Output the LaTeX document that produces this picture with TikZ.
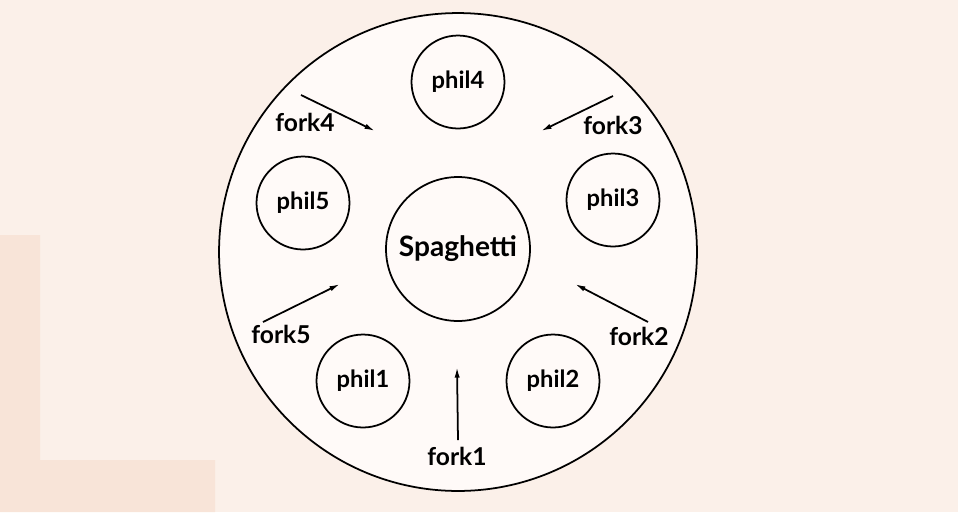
\documentclass[tikz,border=0pt]{standalone}
\usepackage{fontspec}
\setmainfont{Lato}
\usetikzlibrary{arrows.meta}
\definecolor{tablecol}{HTML}{FBF0E9}
\definecolor{stain}{HTML}{F8E4D8}
\definecolor{platecol}{HTML}{FFFAF8}
\begin{document}
\begin{tikzpicture}[x=0.02cm,y=-0.02cm]
			\tikzstyle{every node}+=[inner sep=0pt]
			\tikzstyle{phil}=[draw=black,circle,line width=1pt,fill=platecol,minimum size=1.86cm,font=\fontsize{13.5}{15}\selectfont\bfseries]
			\tikzstyle{forklabel}=[font=\fontsize{14}{16}\selectfont\bfseries]
			\tikzstyle{fork}=[line width=1pt,-{Latex[length=6pt,width=3pt]}]
			\fill [tablecol] (0,0) rectangle (958,512);
			\fill [stain] (0,235) -- (40,235) -- (40,460) -- (215,460) -- (215,512) -- (0,512) -- cycle;
			\useasboundingbox (0,0) rectangle (958,512);
			% the table
			\node [circle,draw=black,line width=1pt,fill=platecol,minimum size=9.56cm] (plate) at (458,252) {};
			\node [circle,draw=black,line width=1pt,fill=platecol,minimum size=2.88cm,font=\fontsize{16}{18}\selectfont\bfseries] (spaghetti) at (458,249) {Spaghetti};
			% philosophers
			\node [phil] (phil4) at (458,82) {phil4};
			\node [phil] (phil5) at (303,203) {phil5};
			\node [phil] (phil3) at (613,200) {phil3};
			\node [phil] (phil1) at (363,381) {phil1};
			\node [phil] (phil2) at (553,381) {phil2};
			% forks
			\coordinate (f4a) at (301,95);
			\coordinate (f4b) at (375,131);
			\draw [fork] (f4a) -- (f4b);
			\node [forklabel] (fork4) at (305,122) {fork4};
			\coordinate (f3a) at (613,96);
			\coordinate (f3b) at (541,131);
			\draw [fork] (f3a) -- (f3b);
			\node [forklabel] (fork3) at (613,125) {fork3};
			\coordinate (f5a) at (263,322);
			\coordinate (f5b) at (340,284);
			\draw [fork] (f5a) -- (f5b);
			\node [forklabel] (fork5) at (281,334) {fork5};
			\coordinate (f2a) at (648,322);
			\coordinate (f2b) at (575,284);
			\draw [fork] (f2a) -- (f2b);
			\node [forklabel] (fork2) at (639,336) {fork2};
			\coordinate (f1a) at (458,440);
			\coordinate (f1b) at (457,367);
			\draw [fork] (f1a) -- (f1b);
			\node [forklabel] (fork1) at (457,456) {fork1};
\end{tikzpicture}
\end{document}
